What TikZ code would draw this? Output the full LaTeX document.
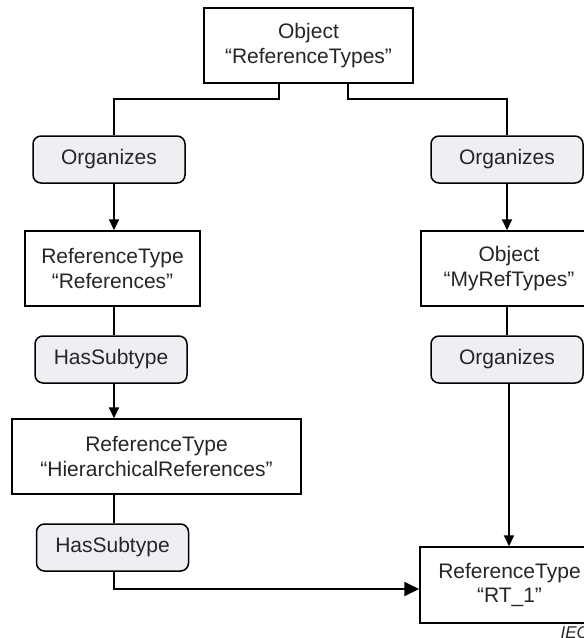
\documentclass[tikz,border=0pt]{standalone}
\usepackage{fontspec}
\setmainfont{Liberation Sans}
\usetikzlibrary{arrows.meta}
\definecolor{inkgray}{RGB}{38,38,38}
\definecolor{relfill}{RGB}{238,239,243}
\begin{document}
\begin{tikzpicture}[x=1pt,y=-1pt,
  every node/.style={text=inkgray, font=\fontsize{21}{24.5}\selectfont},
  objbox/.style={draw=black, line width=1.5pt, fill=white, minimum height=75pt,
    align=center, inner sep=0pt},
  relbox/.style={draw=black, line width=1.5pt, rounded corners=8pt, fill=relfill,
    minimum height=47pt, minimum width=152pt, inner sep=0pt},
  conn/.style={draw=black, line width=2pt},
  arr/.style={conn, -{Triangle[length=11pt,width=10pt]}},
  bigarr/.style={conn, -{Triangle[length=15pt,width=14pt]}}]
\useasboundingbox (0,0) rectangle (584,638);

% left column
\node[objbox, minimum width=209pt] (top) at (308.5,45.5) {Object\\“ReferenceTypes”};
\node[relbox] (org1) at (109,159.5) {Organizes};
\node[objbox, minimum width=175pt] (refs) at (112.5,268.5) {ReferenceType\\“References”};
\node[relbox] (sub1) at (111,359.5) {HasSubtype};
\node[objbox, minimum width=289pt] (hier) at (156.5,456.5) {ReferenceType\\“HierarchicalReferences”};
\node[relbox] (sub2) at (112.5,547.5) {HasSubtype};

% right column
\node[relbox] (org2) at (507,159.5) {Organizes};
\node[objbox, minimum width=176pt] (myref) at (509,268.5) {Object\\“MyRefTypes”};
\node[relbox] (org3) at (507,359.5) {Organizes};
\node[objbox, minimum width=179pt, minimum height=76pt] (rt1) at (509.5,585) {ReferenceType\\“RT\_1”};

\node[anchor=base west, font=\itshape\fontsize{17}{17}\selectfont] (iec) at (557,638) {IEC};

% connector columns
\coordinate (L) at (114,99);
\coordinate (R) at (507,99);
\coordinate (R2) at (509,0);
\coordinate (B) at (114,589);

\draw[conn] ([xshift=-29.5pt]top.south) |- (L) -- (L |- org1.north);
\draw[conn] ([xshift=39.5pt]top.south) |- (R) -- (R |- org2.north);
\draw[arr] (L |- org1.south) -- (L |- refs.north);
\draw[conn] (L |- refs.south) -- (L |- sub1.north);
\draw[arr] (L |- sub1.south) -- (L |- hier.north);
\draw[conn] (L |- hier.south) -- (L |- sub2.north);
\draw[bigarr] (L |- sub2.south) -- (B) -- (B -| rt1.west);
\draw[arr] (R |- org2.south) -- (R |- myref.north);
\draw[conn] (R |- myref.south) -- (R |- org3.north);
\draw[arr] (R2 |- org3.south) -- (R2 |- rt1.north);
\end{tikzpicture}
\end{document}
